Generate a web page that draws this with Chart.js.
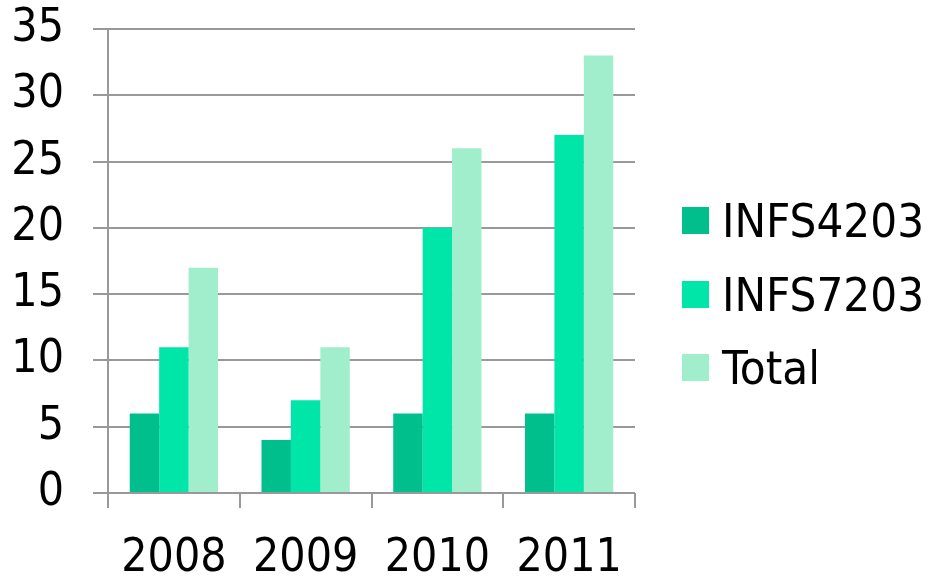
<!DOCTYPE html>
<html>
<head>
<meta charset="utf-8">
<script src="https://cdn.jsdelivr.net/npm/chart.js@4/dist/chart.umd.min.js"></script>
<style>
  html, body { margin: 0; padding: 0; background: #fff; }
  #wrap { position: relative; width: 931px; height: 576px; }
  #legend { position: absolute; left: 682px; top: 184px; font-family: "DejaVu Sans Condensed", "DejaVu Sans", sans-serif; font-size: 47px; color: #000; }
  #legend div { display: flex; align-items: center; height: 73.5px; }
  #legend span.box { display: inline-block; width: 27px; height: 27px; margin-right: 13px; }
</style>
</head>
<body>
<div id="wrap">
  <canvas id="c" width="931" height="576"></canvas>
  <div id="legend"></div>
</div>
<script>
const years = ['2008', '2009', '2010', '2011'];
const infs4203 = [6, 4, 6, 6];
const infs7203 = [11, 7, 20, 27];
const total = [17, 11, 26, 33];
const seriesNames = ['INFS4203', 'INFS7203', 'Total'];
const seriesColors = ['#00bf8c', '#00e5a8', '#a0eecc'];

const FONT = '"DejaVu Sans Condensed", "DejaVu Sans", sans-serif';
const GRID = '#999999';

const datasets = [infs4203, infs7203, total].map((vals, i) => ({
    label: seriesNames[i],
    data: vals,
    backgroundColor: seriesColors[i],
    borderWidth: 0,
    barPercentage: 1,
    categoryPercentage: 0.67
}));

// legend as plain html next to the chart
const legend = document.getElementById('legend');
datasets.forEach(ds => {
    const row = document.createElement('div');
    row.innerHTML = '<span class="box" style="background:' + ds.backgroundColor + '"></span>' + ds.label;
    legend.appendChild(row);
});

new Chart(document.getElementById('c'), {
    type: 'bar',
    data: { labels: years, datasets },
    options: {
        responsive: false,
        animation: false,
        layout: { padding: { top: 29, right: 296, left: 0, bottom: 0 } },
        plugins: { legend: { display: false }, tooltip: { enabled: false } },
        scales: {
            x: {
                grid: { drawOnChartArea: false, drawTicks: true, tickLength: 15, color: GRID, lineWidth: 2 },
                border: { display: false },
                ticks: { color: '#000', font: { family: FONT, size: 46 }, padding: 23, maxRotation: 0 },
                afterFit: s => { s.height = 83; s.paddingLeft = 0; s.paddingRight = 0; }
            },
            y: {
                min: 0, max: 35,
                ticks: { stepSize: 5, color: '#000', font: { family: FONT, size: 46 }, padding: 29 },
                grid: { color: GRID, lineWidth: 2, tickLength: 15 },
                border: { color: GRID, width: 2 },
                afterFit: s => { s.width = 108; s.paddingTop = 0; s.paddingBottom = 0; }
            }
        }
    }
});
</script>
</body>
</html>
